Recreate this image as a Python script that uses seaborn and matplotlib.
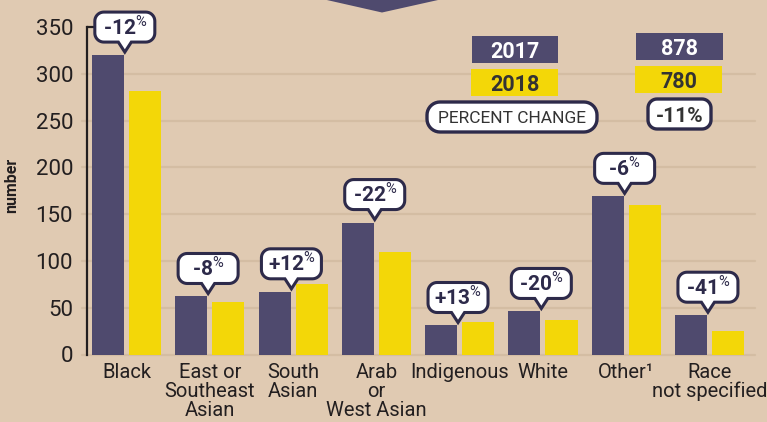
import matplotlib
matplotlib.use("Agg")
import matplotlib.pyplot as plt
import matplotlib.transforms as mtransforms
from matplotlib.path import Path
from matplotlib.patches import PathPatch, Polygon, Rectangle
import numpy as np
import pandas as pd
import seaborn as sns

# Data
groups = ["Black", "East or\nSoutheast\nAsian", "South\nAsian", "Arab\nor\nWest Asian",
          "Indigenous", "White", "Other\u00b9", "Race\nnot specified"]
n_2017 = [320, 62, 67, 141, 31, 46, 169, 42]
n_2018 = [282, 56, 75, 110, 35, 37, 160, 25]
pct_change = ["-12", "-8", "+12", "-22", "+13", "-20", "-6", "-41"]
years = ["2017", "2018"]
totals = [878, 780]
total_change = "-11%"
y_ticks = [0, 50, 100, 150, 200, 250, 300, 350]

BG = "#e0cab2"
PURPLE = "#4f4a6e"
YELLOW = "#f3d708"
DARK = "#231f20"
NAVY = "#2d2a4a"
GRID = "#d4bda3"

sns.set_style("white")
plt.rcParams["font.family"] = ["Roboto", "DejaVu Sans"]
plt.rcParams["mathtext.fontset"] = "custom"
plt.rcParams["mathtext.rm"] = "Roboto"
plt.rcParams["mathtext.bf"] = "Roboto:bold"

W, H = 767, 422
fig = plt.figure(figsize=(W / 100, H / 100), dpi=100, facecolor=BG)
ax = fig.add_axes([87 / W, (H - 354.5) / H, (755 - 87) / W, (354.5 - 27) / H])
ax.set_facecolor(BG)

df = pd.DataFrame({
    "group": groups * 2,
    "number": n_2017 + n_2018,
    "year": [years[0]] * len(groups) + [years[1]] * len(groups),
})
sns.barplot(data=df, x="group", y="number", hue="year", order=groups,
            palette=[PURPLE, YELLOW], width=0.89, gap=0.135, saturation=1,
            linewidth=0, edgecolor="none", legend=False, ax=ax, zorder=3)

ax.set_xlim(-0.474, 7.545)
ax.set_ylim(0, 350)
ax.set_yticks(y_ticks)
for v in y_ticks[:-1]:
    ax.axhline(v, xmin=-0.008, xmax=1, color=GRID, lw=1.6, zorder=1, clip_on=False)
# short cap at the top of the axis
ax.axhline(y_ticks[-1], xmin=0, xmax=0.015, color=DARK, lw=1.6, zorder=4, clip_on=False)

for s in ["top", "right", "bottom"]:
    ax.spines[s].set_visible(False)
ax.spines["left"].set_color(DARK)
ax.spines["left"].set_linewidth(1.6)
ax.spines["left"].set_zorder(4)
ax.tick_params(axis="y", direction="in", length=4, width=1.6, color=DARK,
               labelsize=16, labelcolor=DARK, pad=10)
ax.tick_params(axis="x", length=0, labelsize=14.5, labelcolor=DARK, pad=6)
for lbl in ax.get_xticklabels():
    lbl.set_linespacing(1.0)
ax.set_xlabel("")
ax.set_ylabel("")
fig.text(12 / W, 1 - 185 / H, "number", rotation=90, ha="center", va="center",
         fontsize=11.5, fontweight="bold", color=DARK)


def rounded_path(x0, y0, x1, y1, r, tip=None, pw=6.5):
    # rounded rectangle (pixel units, y up), optional pointer down to tip
    def arc(cx, cy, a0, a1):
        t = np.radians(np.linspace(a0, a1, 10))
        return list(zip(cx + r * np.cos(t), cy + r * np.sin(t)))
    verts = []
    if tip is not None:
        verts += [tip, (tip[0] + pw, y0)]
    verts += arc(x1 - r, y0 + r, -90, 0)
    verts += arc(x1 - r, y1 - r, 0, 90)
    verts += arc(x0 + r, y1 - r, 90, 180)
    verts += arc(x0 + r, y0 + r, 180, 270)
    if tip is not None:
        verts += [(tip[0] - pw, y0)]
    verts.append(verts[0])
    codes = [Path.MOVETO] + [Path.LINETO] * (len(verts) - 2) + [Path.CLOSEPOLY]
    return Path(verts, codes)


# callouts with percent change above each 2017 bar
bw, bh, ph, lift = 60, 30, 10, 3
for i, (v, p) in enumerate(zip(n_2017, pct_change)):
    path = rounded_path(-bw / 2, ph + lift, bw / 2, ph + lift + bh, 9, tip=(0, lift))
    tr = mtransforms.Affine2D() + mtransforms.ScaledTranslation(i - 0.02, v, ax.transData)
    patch = PathPatch(path, facecolor="white", edgecolor=NAVY, lw=2.2,
                      transform=tr, zorder=6, clip_on=False)
    ax.add_artist(patch)
    ax.annotate(p + r"$^{\%}$", xy=(i - 0.02, v), xytext=(0, lift + ph + bh / 2 - 7),
                textcoords="offset pixels", ha="center", va="baseline",
                fontsize=15, fontweight="bold", color=NAVY, zorder=7,
                annotation_clip=False)


def fx(x):
    return x / W


def fy(y):
    return 1 - y / H


# decorative banner point at the top
fig.patches.append(Polygon([(fx(318), fy(-2)), (fx(447), fy(-2)), (fx(382), fy(12.5))],
                           closed=True, transform=fig.transFigure, facecolor=PURPLE,
                           edgecolor="none"))

# key boxes
key_boxes = [
    (472, 36, 558, 63, PURPLE, years[0], "white"),
    (471, 69, 558, 96, YELLOW, years[1], "#333333"),
    (636, 33, 723, 60, PURPLE, str(totals[0]), "white"),
    (635, 66, 722, 93, YELLOW, str(totals[1]), "#333333"),
]
for x0, y0, x1, y1, c, t, tc in key_boxes:
    fig.patches.append(Rectangle((fx(x0), fy(y1)), fx(x1) - fx(x0), fy(y0) - fy(y1),
                                 transform=fig.transFigure, facecolor=c, edgecolor="none"))
    fig.text(fx((x0 + x1) / 2), fy((y0 + y1) / 2), t, ha="center", va="center_baseline",
             fontsize=15.5, fontweight="bold", color=tc)

pill_boxes = [
    (427, 102, 597, 132, 13, "PERCENT CHANGE", 12.5, "normal"),
    (648, 99, 711, 129, 9, total_change, 15, "bold"),
]
for x0, y0, x1, y1, r, t, fs, fw in pill_boxes:
    path = rounded_path(x0, H - y1, x1, H - y0, r)
    fig.patches.append(PathPatch(path, facecolor="white", edgecolor=NAVY, lw=2.4,
                                 transform=mtransforms.Affine2D()))
    fig.text(fx((x0 + x1) / 2), fy((y0 + y1) / 2), t, ha="center", va="center_baseline",
             fontsize=fs, fontweight=fw, color="#333333")

fig.savefig("out.png", dpi=100, facecolor=BG)
